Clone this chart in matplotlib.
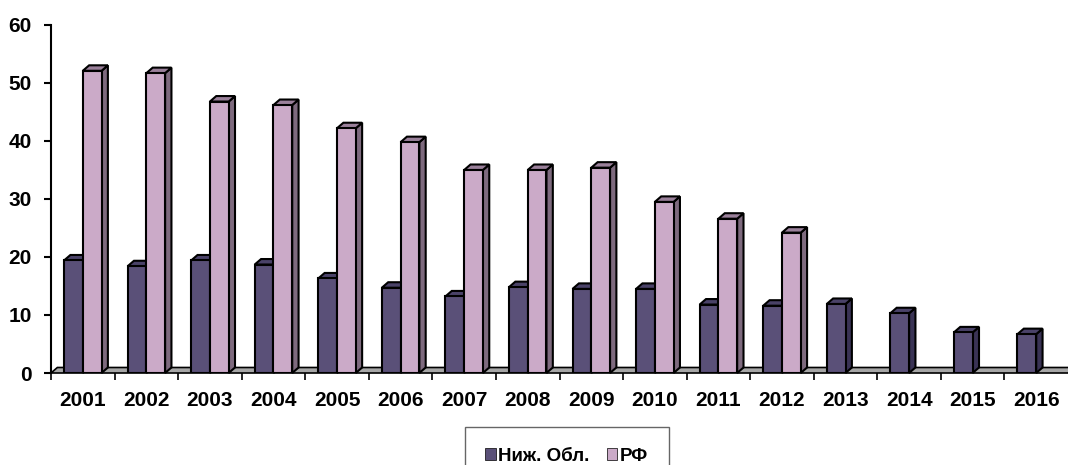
import matplotlib
matplotlib.use("Agg")
import matplotlib.pyplot as plt
from matplotlib.patches import Polygon

years = ["2001", "2002", "2003", "2004", "2005", "2006", "2007", "2008",
         "2009", "2010", "2011", "2012", "2013", "2014", "2015", "2016"]
nizh = [19.4, 18.4, 19.4, 18.7, 16.3, 14.7, 13.2, 14.8,
        14.5, 14.5, 11.8, 11.6, 11.9, 10.3, 7.0, 6.7]
rf = [52.1, 51.7, 46.8, 46.2, 42.2, 39.8, 35.0, 35.0,
      35.4, 29.5, 26.6, 24.2]

plt.rcParams['font.family'] = ['Liberation Sans', 'DejaVu Sans']

w = 0.295     # bar width
dx = 0.1      # 3d depth, x
dy = 0.95     # 3d depth, y

fig = plt.figure(figsize=(10.68, 4.65), dpi=100)
ax = fig.add_axes([51/1068, 92/465, 1017/1068, 348/465])

# floor
ax.add_patch(Polygon([(-0.5, 0), (15.5, 0), (15.5 + dx, dy), (-0.5 + dx, dy)],
                     closed=True, fc="#a6a6a6", ec="black", lw=1.2, clip_on=False, zorder=1))


def bar3d(x0, h, front, side, top):
    ax.add_patch(Polygon([(x0 + w, 0), (x0 + w + dx, dy), (x0 + w + dx, h + dy), (x0 + w, h)],
                         closed=True, fc=side, ec="black", lw=1.5, clip_on=False, zorder=2))
    ax.add_patch(Polygon([(x0, h), (x0 + dx, h + dy), (x0 + w + dx, h + dy), (x0 + w, h)],
                         closed=True, fc=top, ec="black", lw=1.5, clip_on=False, zorder=2))
    ax.bar(x0, h, width=w, align="edge", color=front, edgecolor="black", lw=1.5, zorder=2)


for i in range(len(years)):
    bar3d(i - w, nizh[i], "#5a5078", "#3a3355", "#4a4268")
    if i < len(rf):
        bar3d(i, rf[i], "#cbaac8", "#7e6a7e", "#9a809a")

# legend handles
ax.bar([0], [0], color="#5a5078", edgecolor="black", lw=0.5, label="Ниж. Обл.")
ax.bar([0], [0], color="#cbaac8", edgecolor="black", lw=0.5, label="РФ")

ax.set_xlim(-0.5, 15.5)
ax.set_ylim(0, 60)
ax.set_yticks(range(0, 61, 10))
ax.set_xticks([i - 0.5 for i in range(16)], minor=True)
ax.set_xticks(range(16))
ax.set_xticklabels(years, fontsize=15, fontweight="bold")
ax.tick_params(axis="x", which="major", length=0, pad=13)
ax.tick_params(axis="x", which="minor", length=5, width=1.2, direction="out")
ax.tick_params(axis="y", length=5, width=1.5, direction="out", pad=9)
for t in ax.get_yticklabels():
    t.set_fontsize(15)
    t.set_fontweight("bold")

for s in ["top", "right"]:
    ax.spines[s].set_visible(False)
ax.spines["left"].set_linewidth(1.5)
ax.spines["bottom"].set_visible(False)

leg = ax.legend(loc="upper center", bbox_to_anchor=(0.507, -0.155), ncol=2,
                frameon=True, fancybox=False, handlelength=0.55, handleheight=0.55,
                handletextpad=0.15, columnspacing=0.9, borderpad=1.1, borderaxespad=0,
                prop={"weight": "bold", "size": 13.5})
leg.get_frame().set_edgecolor("#404040")
leg.get_frame().set_linewidth(1.0)

plt.savefig("out.png", dpi=100)
